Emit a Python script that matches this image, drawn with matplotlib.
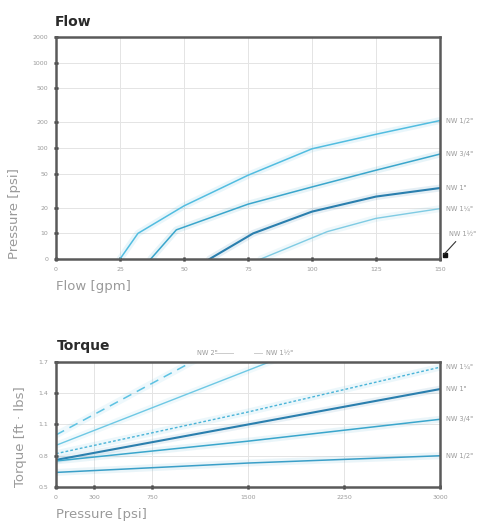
import numpy as np
import matplotlib
matplotlib.use('Agg')
import matplotlib.pyplot as plt

# Flow chart data (flow in gpm, pressure drop in psi)
flow_names = ['NW 1/2"', 'NW 3/4"', 'NW 1"', 'NW 1¼"']
flow_q = [
    [25, 32, 50, 75, 100, 125, 150],
    [37, 47, 75, 100, 125, 150],
    [60, 77, 100, 125, 150],
    [80, 106, 125, 150],
]
flow_p = [
    [0, 10, 21, 48, 98, 145, 210],
    [0, 11, 22, 35, 55, 85],
    [0, 10, 18, 27, 34],
    [0, 10.5, 15, 19.5],
]
flow_colors = ['#52bde0', '#3aa6cc', '#2a7fae', '#7fcbe3']
flow_widths = [1.1, 1.1, 1.5, 1.0]
flow_xticks = [0, 25, 50, 75, 100, 125, 150]
flow_yticks = [0, 10, 20, 50, 100, 200, 500, 1000, 2000]

# Torque chart data (pressure in psi, torque in ft lbs)
torque_names = ['NW 2"', 'NW 1½"', 'NW 1¼"', 'NW 1"', 'NW 3/4"', 'NW 1/2"']
torque_psi = [0, 1500, 3000]
torque_vals = [
    [1.00, 1.99, 2.98],
    [0.90, 1.62, 2.34],
    [0.82, 1.22, 1.65],
    [0.76, 1.10, 1.44],
    [0.75, 0.94, 1.15],
    [0.64, 0.73, 0.80],
]
torque_colors = ['#5cc2e2', '#6ec8e4', '#4ab4d8', '#2a7fae', '#3aa6cc', '#3a9fc8']
torque_styles = [(0, (6, 4)), '-', (0, (2, 1.5)), '-', '-', '-']
torque_widths = [1.1, 1.0, 1.0, 1.5, 1.1, 1.1]
torque_xticks = [0, 300, 750, 1500, 2250, 3000]
torque_yticks = [0.5, 0.8, 1.1, 1.4, 1.7]

grey = '#9a9a9a'
spine_c = '#5a5a5a'

fig = plt.figure(figsize=(4.87, 5.25), dpi=100)
ax1 = fig.add_axes([56/487, 1-259/525, 384/487, 222/525])
ax2 = fig.add_axes([56/487, 1-487/525, 384/487, 125/525])


def style_axes(ax):
    for s in ax.spines.values():
        s.set_color(spine_c)
        s.set_linewidth(1.8)
    ax.tick_params(direction='inout', length=3.5, width=1.8, color='#222222',
                   labelsize=4.5, labelcolor=grey, pad=4)
    ax.grid(True, color='#e4e4e4', linewidth=0.7)
    ax.set_axisbelow(True)


# ---- Flow ----
for q, p, c, w in zip(flow_q, flow_p, flow_colors, flow_widths):
    ax1.plot(q, p, color=c, lw=5, alpha=0.12, solid_capstyle='round')
    ax1.plot(q, p, color=c, lw=w)
ax1.set_yscale('symlog', linthresh=10, linscale=0.27)
ax1.set_xlim(0, 150)
ax1.set_ylim(0, 2000)
ax1.set_xticks(flow_xticks)
ax1.set_xticklabels([str(t) for t in flow_xticks])
ax1.set_yticks(flow_yticks)
ax1.set_yticklabels([str(t) for t in flow_yticks])
ax1.yaxis.set_minor_locator(matplotlib.ticker.NullLocator())
style_axes(ax1)
ax1.set_xlabel('Flow [gpm]', loc='left', color=grey, fontsize=9.5, labelpad=6)
ax1.set_ylabel('Pressure [psi]', loc='bottom', color=grey, fontsize=9.5, labelpad=8)
for name, q, p in zip(flow_names, flow_q, flow_p):
    ax1.annotate(name, xy=(1, p[-1]), xycoords=('axes fraction', 'data'),
                 xytext=(4, 0), textcoords='offset points', fontsize=4.8,
                 color=grey, va='center', annotation_clip=False)
ax1.annotate('NW 1½"', xy=(1.01, 0.02), xycoords='axes fraction',
             xytext=(4, 15), textcoords='offset points', fontsize=4.8,
             color=grey, va='center', annotation_clip=False,
             arrowprops=dict(arrowstyle='-', color='#333333', lw=0.8,
                             shrinkA=2, shrinkB=0))
ax1.plot([1.012], [0.02], 's', color='#111111', ms=2.5,
         transform=ax1.transAxes, clip_on=False)
fig.text(55/487, 1-26/525, 'Flow', fontsize=10, fontweight='bold', color='#2a2a2a')

# ---- Torque ----
for name, v, c, ls, w in zip(torque_names, torque_vals, torque_colors,
                             torque_styles, torque_widths):
    ax2.plot(torque_psi, v, color=c, lw=5, alpha=0.1, solid_capstyle='round')
    ax2.plot(torque_psi, v, color=c, lw=w, linestyle=ls)
ax2.set_xlim(0, 3000)
ax2.set_ylim(0.5, 1.7)
ax2.set_xticks(torque_xticks)
ax2.set_xticklabels([str(t) for t in torque_xticks])
ax2.set_yticks(torque_yticks)
ax2.set_yticklabels([str(t) for t in torque_yticks])
style_axes(ax2)
ax2.set_xlabel('Pressure [psi]', loc='left', color=grey, fontsize=9.5, labelpad=6)
ax2.set_ylabel('Torque [ft · lbs]', loc='bottom', color=grey, fontsize=9.5, labelpad=8)
for name, v in zip(torque_names[2:], torque_vals[2:]):
    ax2.annotate(name, xy=(1, v[-1]), xycoords=('axes fraction', 'data'),
                 xytext=(4, 0), textcoords='offset points', fontsize=4.8,
                 color=grey, va='center', annotation_clip=False)
# labels for lines leaving through the top
ax2.text(1100, 1.79, torque_names[0], fontsize=4.8, color=grey, va='center')
ax2.plot([1240, 1380], [1.79, 1.79], color='#cccccc', lw=0.7, clip_on=False)
ax2.text(1640, 1.79, torque_names[1], fontsize=4.8, color=grey, va='center')
ax2.plot([1550, 1610], [1.79, 1.79], color='#cccccc', lw=0.7, clip_on=False)
fig.text(57/487, 1-350/525, 'Torque', fontsize=10, fontweight='bold', color='#2a2a2a')

fig.savefig('out.png', dpi=100)
